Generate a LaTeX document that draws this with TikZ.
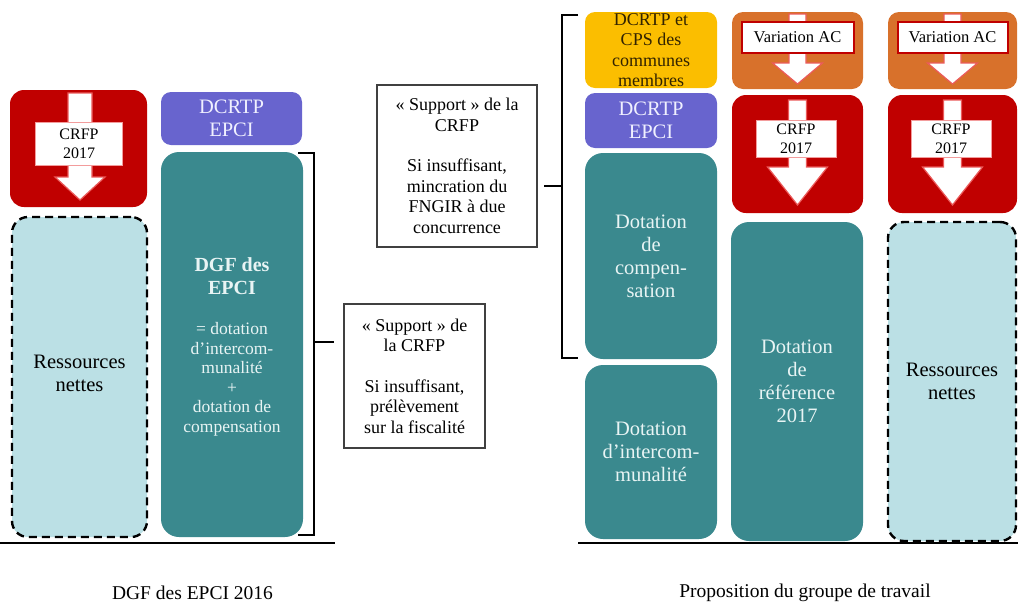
\documentclass[tikz,border=0pt]{standalone}
\usepackage{fontspec}
\setmainfont{Liberation Serif}
\definecolor{crfpred}{RGB}{192,0,0}
\definecolor{acorange}{RGB}{216,113,43}
\definecolor{dcrtpviolet}{RGB}{104,100,206}
\definecolor{cpsyellow}{RGB}{251,190,0}
\definecolor{dgfteal}{RGB}{58,137,142}
\definecolor{netblue}{RGB}{187,224,229}
\definecolor{tealtext}{RGB}{232,244,244}
\definecolor{violettext}{RGB}{240,240,255}
\definecolor{yellowtext}{RGB}{50,35,0}
\definecolor{arrowedge}{RGB}{235,90,90}
\newcommand\fbig{\fontsize{20.5}{23}\selectfont}
\newcommand\fmid{\fontsize{18}{20.5}\selectfont}
\newcommand\fbody{\fontsize{17.5}{19.5}\selectfont}
\newcommand\fsmall{\fontsize{16}{19}\selectfont}
\newcommand\fac{\fontsize{16.5}{19}\selectfont}
\newcommand\fcap{\fontsize{19.5}{22}\selectfont}
% \boxat{name}{style}{x1}{y1}{x2}{y2}{text}
\newcommand\boxat[7]{%
  \pgfmathsetmacro\boxw{#5-#3}\pgfmathsetmacro\boxh{#6-#4}%
  \node[#2, minimum width=\boxw pt, minimum height=\boxh pt] (#1)
    at ({(#3+#5)/2},{(#4+#6)/2}) {#7};}
% white block arrow pointing down: \downarr{cx}{ytop}{ybase}{ytip}{shaft half}{head half}
\newcommand\downarr[6]{%
  \draw[arrowshape] ({#1-#5},#2) -- ({#1+#5},#2) -- ({#1+#5},#3) -- ({#1+#6},#3)
    -- (#1,#4) -- ({#1-#6},#3) -- ({#1-#5},#3) -- cycle;}
\begin{document}
\begin{tikzpicture}[x=1pt,y=-1pt,
  every node/.style={inner sep=0pt, align=center},
  redbox/.style={fill=crfpred, rounded corners=14pt},
  orangebox/.style={fill=acorange, rounded corners=11pt},
  violetbox/.style={fill=dcrtpviolet, rounded corners=10pt, text=violettext, font=\fbig},
  yellowbox/.style={fill=cpsyellow, rounded corners=10pt, text=yellowtext, font=\fmid},
  tealbox/.style={fill=dgfteal, rounded corners=18pt, text=tealtext, font=\fbig},
  netbox/.style={fill=netblue, draw=black, line width=2.4pt, dash pattern=on 8pt off 5pt,
    rounded corners=16pt, font=\fbig},
  notebox/.style={fill=white, draw=black!75, line width=1.1pt, font=\fmid},
  arrowshape/.style={fill=white, draw=arrowedge, line width=1.2pt, line join=miter},
  crfplabel/.style={fill=white, draw=arrowedge!60, line width=0.8pt, font=\fsmall},
  aclabel/.style={fill=white, draw=crfpred, line width=2pt, font=\fac},
  bracket/.style={line width=2.2pt},
  ground/.style={line width=2.6pt},
  caption/.style={font=\fcap}
]
\useasboundingbox (0,0) rectangle (1018,603);

% ---------- DGF des EPCI 2016 ----------
\boxat{crfpL}{redbox}{10}{90}{147}{207}{}
\downarr{80}{93}{177}{200}{12}{25}
\node[crfplabel, minimum width=87pt, minimum height=43pt] (crfpLlab) at (79,143.5) {CRFP\\2017};
\boxat{netL}{netbox}{12}{217}{147}{537}{}
\node[font=\fbig] (netLtext) at (79.5,373) {Ressources\\nettes};

\boxat{dcrtpL}{violetbox}{161}{92}{302}{145}{DCRTP\\EPCI}
\boxat{dgf}{tealbox}{161}{152}{303}{537}{}
\node[text=tealtext, font=\fontsize{20}{23}\selectfont\bfseries] (dgftitle) at (232,276) {DGF des\\EPCI};
\node[text=tealtext, font=\fbody] (dgfbody) at (232,379.5)
  {= dotation\\d’intercom-\\munalité\\+\\dotation de\\compensation};

\boxat{sup1}{notebox}{344}{304}{485}{448}
  {« Support » de\\la CRFP\\[20pt]Si insuffisant,\\prélèvement\\sur la fiscalité};

\coordinate (lbT) at (314,153);
\coordinate (lbB) at (314,535);
\coordinate (lbM) at (314,342);
\draw[bracket] (298,153) -- (lbT) -- (lbB) -- (298,535);
\draw[bracket, shorten >=9pt] (lbM) -- (lbM -| sup1.west);

\draw[ground] (0,543) -- (335,543);
\node[caption] (capL) at (192.5,593) {DGF des EPCI 2016};

% ---------- Proposition du groupe de travail ----------
\boxat{sup2}{notebox}{377}{85}{537}{247}
  {« Support » de la\\CRFP\\[20pt]Si insuffisant,\\mincration du\\FNGIR à due\\concurrence};

\boxat{cps}{yellowbox}{585}{12}{717}{88}{DCRTP et\\CPS des\\communes\\membres}
\boxat{dcrtpR}{violetbox}{585}{93}{717}{148}{DCRTP\\EPCI}
\boxat{comp}{tealbox}{585}{153}{717}{359}{Dotation\\de\\compen-\\sation}
\boxat{inter}{tealbox}{585}{365}{717}{539}{Dotation\\d’intercom-\\munalité}

\coordinate (rbT) at (562,15);
\coordinate (rbB) at (562,358);
\coordinate (rbM) at (562,186);
\draw[bracket] (578,15) -- (rbT) -- (rbB) -- (578,358);
\draw[bracket, shorten >=6pt] (rbM) -- (rbM -| sup2.east);

% second column
\boxat{acA}{orangebox}{732}{12}{863}{89}{}
\downarr{797.5}{14}{63}{84}{8.5}{25}
\node[aclabel, minimum width=112pt, minimum height=31pt] (acAlab) at (797.5,37.5) {Variation AC};
\boxat{crfpA}{redbox}{732}{95}{863}{213}{}
\downarr{797.5}{100}{167}{205}{9}{30}
\node[crfplabel, minimum width=80pt, minimum height=37pt] (crfpAlab) at (796,138.5) {CRFP\\2017};
\boxat{ref}{tealbox}{731}{222}{863}{541}{Dotation\\de\\référence\\2017}

% third column
\boxat{acB}{orangebox}{888}{12}{1017}{89}{}
\downarr{952.5}{14}{63}{84}{8.5}{25}
\node[aclabel, minimum width=110pt, minimum height=31pt] (acBlab) at (952.5,37.5) {Variation AC};
\boxat{crfpB}{redbox}{888}{95}{1017}{213}{}
\downarr{952.5}{100}{167}{205}{9}{30}
\node[crfplabel, minimum width=80pt, minimum height=37pt] (crfpBlab) at (951,138.5) {CRFP\\2017};
\boxat{netR}{netbox}{888}{222}{1016}{541}{Ressources\\nettes}

\draw[ground] (578,543) -- (1018,543);
\node[caption] (capR) at (805,593) {Proposition du groupe de travail};
\end{tikzpicture}
\end{document}
